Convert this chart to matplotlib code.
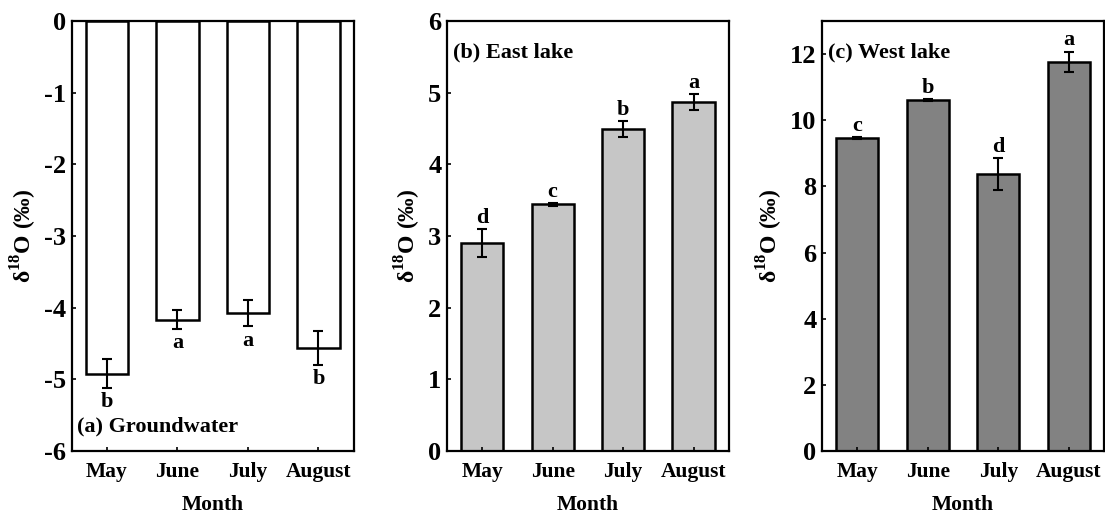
import numpy as np
import matplotlib
matplotlib.use("Agg")
import matplotlib.pyplot as plt

plt.rcParams['font.family'] = ['Liberation Serif', 'DejaVu Serif']
plt.rcParams['font.weight'] = 'bold'
plt.rcParams['mathtext.fontset'] = 'custom'
plt.rcParams['mathtext.rm'] = 'Liberation Serif:bold'
plt.rcParams['mathtext.bf'] = 'Liberation Serif:bold'
plt.rcParams['axes.unicode_minus'] = False
plt.rcParams['axes.linewidth'] = 1.6

months = ['May', 'June', 'July', 'August']

# (a) groundwater
gw_mean = [-4.92, -4.17, -4.08, -4.56]
gw_err = [0.20, 0.13, 0.18, 0.24]
gw_letters = ['b', 'a', 'a', 'b']

# (b) east lake
east_mean = [2.90, 3.44, 4.49, 4.87]
east_err = [0.20, 0.02, 0.11, 0.11]
east_letters = ['d', 'c', 'b', 'a']

# (c) west lake
west_mean = [9.45, 10.60, 8.38, 11.77]
west_err = [0.03, 0.03, 0.48, 0.30]
west_letters = ['c', 'b', 'd', 'a']

panels = [
    dict(mean=gw_mean, err=gw_err, letters=gw_letters, color='white',
         ylim=(-6, 0), ticks=np.arange(-6, 1, 1), title='(a) Groundwater',
         tpos=(0.02, 0.045), left=0.065),
    dict(mean=east_mean, err=east_err, letters=east_letters, color='#c6c6c6',
         ylim=(0, 6), ticks=np.arange(0, 7, 1), title='(b) East lake',
         tpos=(0.02, 0.915), left=0.4045),
    dict(mean=west_mean, err=west_err, letters=west_letters, color='#828282',
         ylim=(0, 13), ticks=np.arange(0, 13, 2), title='(c) West lake',
         tpos=(0.02, 0.915), left=0.744),
]

fig = plt.figure(figsize=(11.05, 5.13), dpi=100)

for p in panels:
    ax = fig.add_axes([p['left'], 0.121, 0.255, 0.838])
    x = np.arange(len(months))
    ax.bar(x, p['mean'], width=0.6, color=p['color'], edgecolor='black', linewidth=1.8)
    ax.errorbar(x, p['mean'], yerr=p['err'], fmt='none', ecolor='black',
                elinewidth=1.5, capsize=3.3, capthick=1.5)
    ax.set_xlim(-0.5, 3.5)
    ax.set_ylim(*p['ylim'])
    ax.set_yticks(p['ticks'])
    ax.set_xticks(x)
    ax.set_xticklabels(months)
    ax.tick_params(direction='in', length=3, width=1.2)
    ax.tick_params(axis='x', labelsize=15.5, pad=8)
    ax.tick_params(axis='y', labelsize=19, pad=4)
    ax.set_xlabel('Month', fontsize=15.5, fontweight='bold', labelpad=9)
    ax.set_ylabel(r'δ$^{18}$O (‰)', fontsize=17, fontweight='bold', labelpad=4)
    ax.text(p['tpos'][0], p['tpos'][1], p['title'], transform=ax.transAxes,
            fontsize=16, fontweight='bold', va='baseline')
    span = p['ylim'][1] - p['ylim'][0]
    for xi, m, e, lt in zip(x, p['mean'], p['err'], p['letters']):
        if m < 0:
            ax.text(xi, m - e - 0.01 * span, lt, ha='center', va='top',
                    fontsize=16, fontweight='bold')
        else:
            ax.text(xi, m + e + 0.003 * span, lt, ha='center', va='bottom',
                    fontsize=16, fontweight='bold')

fig.savefig('out.png', dpi=100)
